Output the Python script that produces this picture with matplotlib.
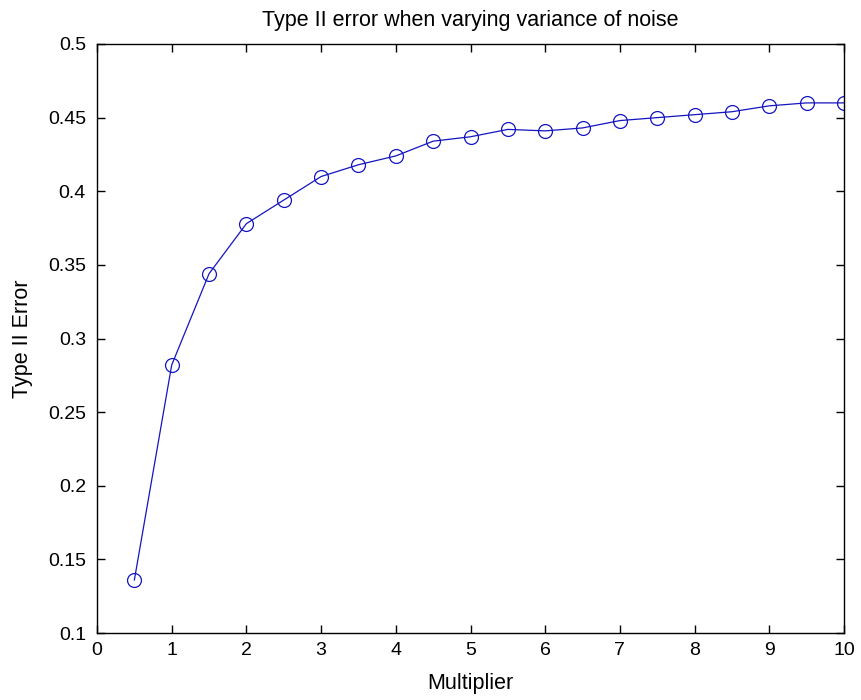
import matplotlib
matplotlib.use("Agg")
import matplotlib.pyplot as plt
from matplotlib.ticker import FuncFormatter

# multiplier applied to noise variance and resulting type II error
multiplier = [0.5, 1, 1.5, 2, 2.5, 3, 3.5, 4, 4.5, 5,
              5.5, 6, 6.5, 7, 7.5, 8, 8.5, 9, 9.5, 10]
type2_error = [0.136, 0.282, 0.344, 0.378, 0.394, 0.410, 0.418, 0.424, 0.434, 0.437,
               0.442, 0.441, 0.443, 0.448, 0.450, 0.452, 0.454, 0.458, 0.460, 0.460]

x_ticks = list(range(0, 11))
y_ticks = [0.1, 0.15, 0.2, 0.25, 0.3, 0.35, 0.4, 0.45, 0.5]

plt.rcParams["font.family"] = ["Liberation Sans", "DejaVu Sans"]

fig = plt.figure(figsize=(8.61, 7), dpi=100)
# axes box: left 97px, right 844px, top 44px, bottom 633px
ax = fig.add_axes([97 / 861, 1 - 633 / 700, 747 / 861, 589 / 700])

ax.plot(multiplier, type2_error, color="#1414c0", linewidth=0.9,
        marker="o", markersize=10, markerfacecolor="none",
        markeredgecolor="#1414c0", markeredgewidth=0.9)

ax.set_xlim(0, 10)
ax.set_ylim(0.1, 0.5)
ax.set_xticks(x_ticks)
ax.set_yticks(y_ticks)
ax.yaxis.set_major_formatter(FuncFormatter(lambda v, p: f"{v:g}"))

# MATLAB-like inward ticks on all four sides
ax.tick_params(direction="in", top=True, right=True, length=6, width=1,
               labelsize=14)
ax.tick_params(axis="x", pad=6.8)
ax.tick_params(axis="y", pad=8)
for s in ax.spines.values():
    s.set_linewidth(1)

ax.set_xlabel("Multiplier", fontsize=15.5)
ax.set_ylabel("Type II Error", fontsize=15.5)
ax.xaxis.set_label_coords(0.5, -(673 - 633) / 589)
ax.yaxis.set_label_coords(-(97 - 33) / 747, 0.5)
ax.set_title("Type II error when varying variance of noise", fontsize=15.5, pad=13)

fig.savefig("out.png", dpi=100)
